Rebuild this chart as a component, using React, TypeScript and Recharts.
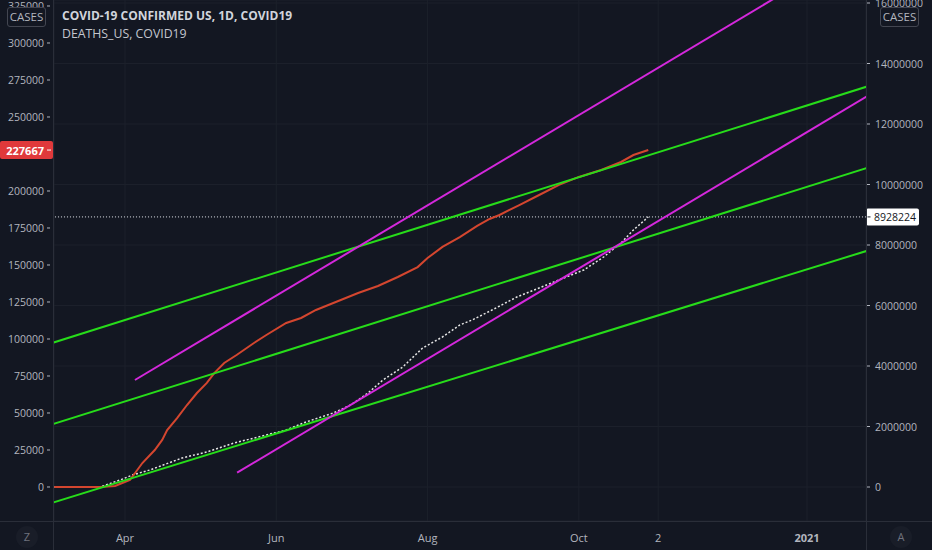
import React from "react";
import { ComposedChart, Line, XAxis, YAxis, CartesianGrid, ReferenceLine } from "recharts";

// ---- data (day 0 = 1 Apr 2020) ----
const deathDays = [-28.5, -10, -4, 2, 7, 12, 15, 17, 21, 25, 29, 33, 36, 40, 45, 52, 57, 65, 71, 77, 85, 94, 102, 110, 118, 122, 128, 135, 142, 147, 151, 159, 167, 175, 183, 192, 200, 205, 211];
const deathValues = [0, 0, 700, 4700, 16200, 25000, 31800, 38500, 46600, 55400, 63500, 70300, 77000, 83800, 89200, 97300, 102700, 110800, 114200, 119600, 125000, 131100, 135800, 141900, 148600, 154700, 162200, 168900, 176400, 181100, 183800, 190500, 197300, 204100, 209500, 214200, 219600, 224300, 227667];

const caseDays = [-28.5, -10, -2, 3, 10, 23, 33, 44, 57, 65, 73, 84, 91, 98, 104, 112, 120, 128, 135, 140, 148, 158, 167, 175, 185, 193, 200, 205, 211];
const caseValues = [0, 0, 231000, 397000, 562000, 959000, 1157000, 1455000, 1719000, 1884000, 2149000, 2446000, 2711000, 3107000, 3537000, 3967000, 4595000, 4959000, 5355000, 5521000, 5851000, 6281000, 6579000, 6843000, 7174000, 7603000, 8066000, 8496000, 8928224];

const lastDeaths = 227667;
const lastCases = 8928224;

const xTicks = [0, 61, 122, 183, 215, 275];
const xTickLabels = ["Apr", "Jun", "Aug", "Oct", "2", "2021"];

const deathTicks = [0, 25000, 50000, 75000, 100000, 125000, 150000, 175000, 200000, 225000, 250000, 275000, 300000, 325000];
const caseTicks = [0, 2000000, 4000000, 6000000, 8000000, 10000000, 12000000, 14000000, 16000000];

// trend lines: [day1, deaths1, day2, deaths2]
const greenLines = [
  [-30, 97000, 300, 271000],
  [-30, 42000, 300, 216000],
  [-30, -11000, 300, 160000],
];
const magentaLines = [
  [4, 72300, 300, 368300],
  [45.2, 9700, 300, 264800],
];

const rows = Array.from(new Set([...deathDays, ...caseDays]))
  .sort((a, b) => a - b)
  .map((d) => {
    const r: any = { day: d };
    const i = deathDays.indexOf(d);
    if (i >= 0) r.deaths = deathValues[i];
    const j = caseDays.indexOf(d);
    if (j >= 0) r.cases = caseValues[j];
    return r;
  });

const BG = "#131722";
const FONT = "'Open Sans', 'Noto Sans', sans-serif";
const TXT = "#b2b5be";
const SEP = "#2a2e39";
const GRID = "#1c202b";
const RED = "#d4462f";
const GREEN = "#27dc1a";
const MAGENTA = "#d428dc";

const LeftTick = (p: any) => {
  const { x, y, payload } = p;
  const v = payload.value;
  if (v === lastDeaths) {
    return (
      <g>
        <rect x={x - 54} y={y - 9} width={53} height={18} rx={2} fill="#e0393b" />
        <text x={x - 10} y={y} textAnchor="end" dominantBaseline="central" fill="#ffffff" fontSize={11} fontWeight={700} fontFamily={FONT}>
          {String(v)}
        </text>
        <line x1={x - 7} x2={x - 3} y1={y} y2={y} stroke="#ffffff" />
      </g>
    );
  }
  return (
    <g>
      <text x={x - 10} y={y} textAnchor="end" dominantBaseline="central" fill={TXT} fontSize={10.5} fontFamily={FONT}>
        {String(v)}
      </text>
      <line x1={x - 7} x2={x - 4} y1={y} y2={y} stroke={TXT} />
    </g>
  );
};

const RightTick = (p: any) => {
  const { x, y, payload } = p;
  const v = payload.value;
  if (v === lastCases) {
    return (
      <g>
        <rect x={x} y={y - 8.5} width={53} height={17} rx={2} fill="#ffffff" />
        <text x={x + 8} y={y} textAnchor="start" dominantBaseline="central" fill={BG} fontSize={10.5} fontFamily={FONT}>
          {String(v)}
        </text>
        <line x1={x + 1.5} x2={x + 4.5} y1={y} y2={y} stroke={BG} />
      </g>
    );
  }
  return (
    <g>
      <text x={x + 9} y={y} textAnchor="start" dominantBaseline="central" fill={TXT} fontSize={10.5} fontFamily={FONT}>
        {String(v)}
      </text>
      <line x1={x + 1} x2={x + 4} y1={y} y2={y} stroke={TXT} />
    </g>
  );
};

const XTick = (p: any) => {
  const { x, y, payload } = p;
  const i = xTicks.indexOf(payload.value);
  const label = i >= 0 ? xTickLabels[i] : "";
  return (
    <text x={x} y={y + 16} textAnchor="middle" dominantBaseline="central" fill={TXT} fontSize={11} fontWeight={label === "2021" ? 700 : 400} fontFamily={FONT}>
      {label}
    </text>
  );
};

const box = (left: number, top: number): React.CSSProperties => ({
  position: "absolute",
  left,
  top,
  width: 37,
  height: 18,
  border: "1px solid #434651",
  borderRadius: 3,
  background: BG,
  color: TXT,
  fontSize: 11.5,
  lineHeight: "18px",
  textAlign: "center",
  fontFamily: FONT,
});

const circle = (cx: number): React.CSSProperties => ({
  position: "absolute",
  left: cx - 11,
  top: 537 - 11,
  width: 22,
  height: 22,
  borderRadius: 11,
  background: "#191d28",
  color: "#6f727d",
  fontSize: 11,
  lineHeight: "22px",
  textAlign: "center",
  fontFamily: FONT,
});

export default function App() {
  return (
    <div style={{ position: "relative", width: 932, height: 550, background: BG, overflow: "hidden" }}>
      <style>{`body{margin:0;background:${BG};}`}</style>
      <ComposedChart width={932} height={550} data={rows} margin={{ top: 0, right: 0, bottom: 0, left: 0 }}>
        <CartesianGrid yAxisId="cases" stroke={GRID} strokeWidth={1} />
        <XAxis
          dataKey="day"
          type="number"
          domain={[-28.63, 298.79]}
          allowDataOverflow
          ticks={xTicks}
          interval={0}
          height={29}
          tickSize={0}
          tickMargin={0}
          axisLine={false}
          tickLine={false}
          tick={<XTick />}
        />
        <YAxis
          yAxisId="deaths"
          orientation="left"
          width={54}
          type="number"
          domain={[-22973, 329054]}
          allowDataOverflow
          ticks={[...deathTicks, lastDeaths]}
          interval={0}
          tickSize={0}
          tickMargin={0}
          axisLine={false}
          tickLine={false}
          tick={<LeftTick />}
        />
        <YAxis
          yAxisId="cases"
          orientation="right"
          width={66}
          type="number"
          domain={[-1123967, 16099174]}
          allowDataOverflow
          ticks={[...caseTicks, lastCases]}
          interval={0}
          tickSize={0}
          tickMargin={0}
          axisLine={false}
          tickLine={false}
          tick={<RightTick />}
        />
        <ReferenceLine yAxisId="cases" y={lastCases} stroke="#d1d4dc" strokeDasharray="1 2" strokeWidth={1} />
        <Line
          yAxisId="cases"
          dataKey="cases"
          type="linear"
          stroke="#e6e6e6"
          strokeWidth={1.5}
          strokeDasharray="2 2"
          dot={false}
          activeDot={false}
          connectNulls
          isAnimationActive={false}
        />
        <Line
          yAxisId="deaths"
          dataKey="deaths"
          type="linear"
          stroke={RED}
          strokeWidth={2}
          dot={false}
          activeDot={false}
          connectNulls
          isAnimationActive={false}
        />
        {greenLines.map((l, i) => (
          <ReferenceLine
            key={"g" + i}
            yAxisId="deaths"
            segment={[{ x: l[0], y: l[1] }, { x: l[2], y: l[3] }]}
            stroke={GREEN}
            strokeWidth={2}
            ifOverflow="hidden"
          />
        ))}
        {magentaLines.map((l, i) => (
          <ReferenceLine
            key={"m" + i}
            yAxisId="deaths"
            segment={[{ x: l[0], y: l[1] }, { x: l[2], y: l[3] }]}
            stroke={MAGENTA}
            strokeWidth={2}
            ifOverflow="hidden"
          />
        ))}
      </ComposedChart>

      {/* panel separators */}
      <div style={{ position: "absolute", left: 53, top: 0, width: 1, height: 550, background: SEP }} />
      <div style={{ position: "absolute", left: 866, top: 0, width: 1, height: 550, background: SEP }} />
      <div style={{ position: "absolute", left: 0, top: 521, width: 932, height: 1, background: SEP }} />

      {/* legend / titles */}
      <div style={{ position: "absolute", left: 62, top: 7, fontFamily: FONT, fontSize: 12, fontWeight: 700, color: "#d1d4dc", lineHeight: "18px", whiteSpace: "nowrap" }}>
        COVID-19 CONFIRMED US, 1D, COVID19
      </div>
      <div style={{ position: "absolute", left: 62, top: 25, fontFamily: FONT, fontSize: 12.3, color: "#c3c6ce", lineHeight: "18px", whiteSpace: "nowrap" }}>
        DEATHS_US, COVID19
      </div>

      <div style={box(7, 7)}>CASES</div>
      <div style={box(880, 7)}>CASES</div>

      <div style={circle(27)}>Z</div>
      <div style={circle(901)}>A</div>
    </div>
  );
}
